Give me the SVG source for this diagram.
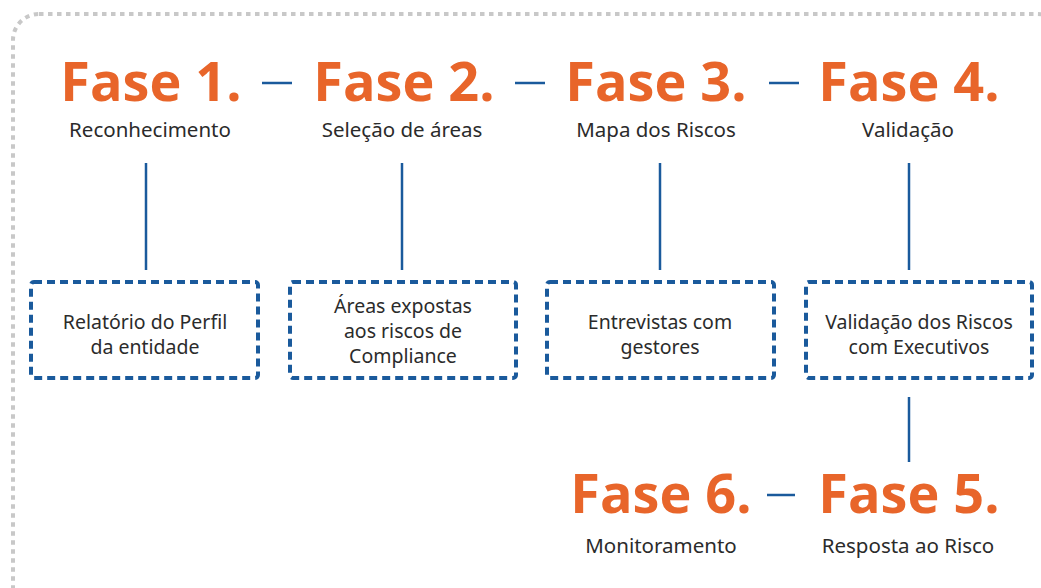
<svg xmlns="http://www.w3.org/2000/svg" width="1041" height="588" viewBox="0 0 1041 588">
<style>
.fase{font-family:"Open Sans","Noto Sans",sans-serif;font-weight:700;font-size:54px;fill:#E8652A;text-anchor:middle}
.sub{font-family:"Noto Sans","Open Sans",sans-serif;font-size:20.5px;fill:#2b2b2b;text-anchor:middle}
.box{fill:none;stroke:#1A5A9C;stroke-width:4;stroke-dasharray:8 5}
.ln{stroke:#1A5A9C;stroke-width:2.5;fill:none}
.txt{font-family:"Noto Sans","Open Sans",sans-serif;font-size:19.5px;fill:#2b2b2b;text-anchor:middle}
</style>
<rect x="0" y="0" width="1041" height="588" fill="#fff"/>
<rect x="13" y="14" width="1050" height="600" rx="26" fill="none" stroke="#c8c8c8" stroke-width="4" stroke-dasharray="4.5 4.5"/>
<g id="connectors">
<line class="ln" x1="262" y1="83" x2="292" y2="83"/>
<line class="ln" x1="515" y1="83" x2="545" y2="83"/>
<line class="ln" x1="769" y1="83" x2="799" y2="83"/>
<line class="ln" x1="767" y1="495" x2="795" y2="495"/>
<line class="ln" x1="146" y1="163" x2="146" y2="270"/>
<line class="ln" x1="402" y1="163" x2="402" y2="270"/>
<line class="ln" x1="660" y1="163" x2="660" y2="270"/>
<line class="ln" x1="909" y1="163" x2="909" y2="270"/>
<line class="ln" x1="909" y1="397" x2="909" y2="462"/>
</g>
<g id="fase1"><text class="fase" x="151" y="101">Fase 1.</text><text class="sub" x="150" y="137">Reconhecimento</text></g>
<g id="fase2"><text class="fase" x="404" y="101">Fase 2.</text><text class="sub" x="402" y="137">Seleção de áreas</text></g>
<g id="fase3"><text class="fase" x="656" y="101">Fase 3.</text><text class="sub" x="656" y="137">Mapa dos Riscos</text></g>
<g id="fase4"><text class="fase" x="909" y="101">Fase 4.</text><text class="sub" x="908" y="137">Validação</text></g>
<g id="fase5"><text class="fase" x="909" y="513">Fase 5.</text><text class="sub" x="908" y="553">Resposta ao Risco</text></g>
<g id="fase6"><text class="fase" x="661" y="513">Fase 6.</text><text class="sub" x="661" y="553">Monitoramento</text></g>
<g id="box1"><rect class="box" x="31" y="282" width="227" height="96" rx="3"/><text class="txt" x="145" y="329">Relatório do Perfil</text><text class="txt" x="145" y="354">da entidade</text></g>
<g id="box2"><rect class="box" x="290" y="282" width="226" height="96" rx="3"/><text class="txt" x="403" y="313">Áreas expostas</text><text class="txt" x="403" y="338">aos riscos de</text><text class="txt" x="403" y="363">Compliance</text></g>
<g id="box3"><rect class="box" x="547" y="282" width="227" height="96" rx="3"/><text class="txt" x="660" y="329">Entrevistas com</text><text class="txt" x="660" y="354">gestores</text></g>
<g id="box4"><rect class="box" x="806" y="282" width="226" height="96" rx="3"/><text class="txt" x="919" y="329">Validação dos Riscos</text><text class="txt" x="919" y="354">com Executivos</text></g>
</svg>
